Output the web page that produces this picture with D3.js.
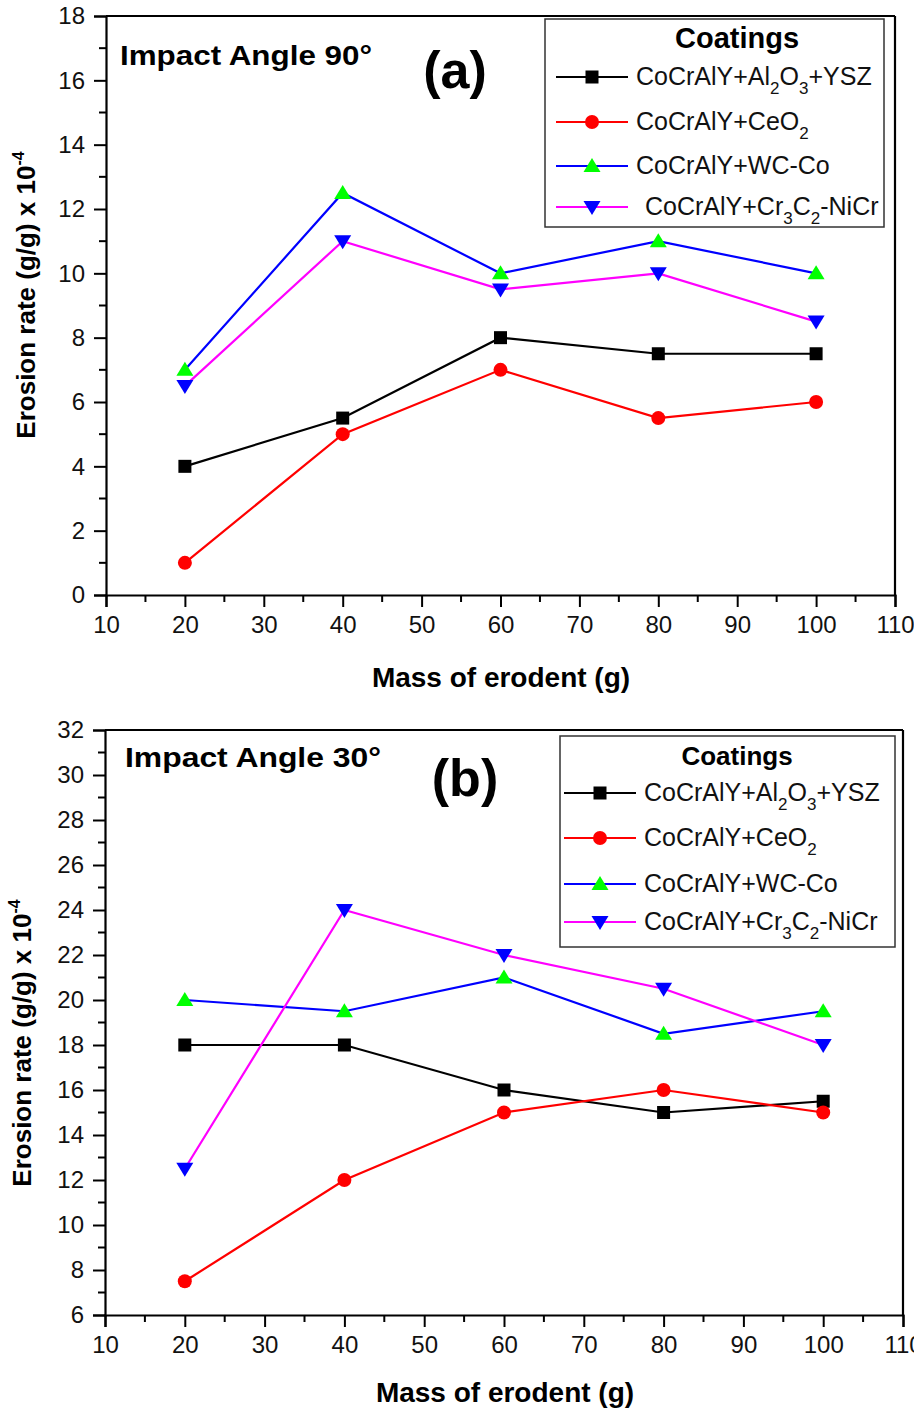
<!DOCTYPE html>
<html><head><meta charset="utf-8">
<script src="https://cdn.jsdelivr.net/npm/d3@7"></script>
<style>
body{margin:0;background:#fff;}
svg text{font-family:"Liberation Sans",Arial,sans-serif;}
</style></head>
<body><svg id="c" width="914" height="1411"></svg>
<script>
const massX = [20, 40, 60, 80, 100];
const seriesNames = ["CoCrAlY+Al2O3+YSZ","CoCrAlY+CeO2","CoCrAlY+WC-Co","CoCrAlY+Cr3C2-NiCr"];
const a_al2o3 = [4, 5.5, 8, 7.5, 7.5];
const a_ceo2  = [1, 5, 7, 5.5, 6];
const a_wcco  = [7, 12.5, 10, 11, 10];
const a_cr3c2 = [6.5, 11, 9.5, 10, 8.5];
const b_al2o3 = [18, 18, 16, 15, 15.5];
const b_ceo2  = [7.5, 12, 15, 16, 15];
const b_wcco  = [20, 19.5, 21, 18.5, 19.5];
const b_cr3c2 = [12.5, 24, 22, 20.5, 18];
const xTicks = [10,20,30,40,50,60,70,80,90,100,110];
const aYTicks = [0,2,4,6,8,10,12,14,16,18];
const bYTicks = [6,8,10,12,14,16,18,20,22,24,26,28,30,32];

const styles = [
  {line:"#000000", fill:"#000000", marker:"square"},
  {line:"#ff0000", fill:"#ff0000", marker:"circle"},
  {line:"#0000ff", fill:"#00ff00", marker:"triangle"},
  {line:"#ff00ff", fill:"#0000ff", marker:"triangleDown"}
];
const labelParts = [
  [["CoCrAlY+Al",0],["2",1],["O",0],["3",1],["+YSZ",0]],
  [["CoCrAlY+CeO",0],["2",1]],
  [["CoCrAlY+WC-Co",0]],
  [["CoCrAlY+Cr",0],["3",1],["C",0],["2",1],["-NiCr",0]]
];

const svg = d3.select("#c");

function marker(g, type, x, y, fill){
  if(type==="square"){
    g.append("rect").attr("x",x-6.5).attr("y",y-6.5).attr("width",13).attr("height",13).attr("fill",fill);
  } else if(type==="circle"){
    g.append("circle").attr("cx",x).attr("cy",y).attr("r",7).attr("fill",fill);
  } else if(type==="triangle"){
    g.append("path").attr("d",`M${x},${y-8}L${x+8.5},${y+6}L${x-8.5},${y+6}Z`).attr("fill",fill);
  } else {
    g.append("path").attr("d",`M${x},${y+8}L${x+8.5},${y-6}L${x-8.5},${y-6}Z`).attr("fill",fill);
  }
}

function panel(cfg){
  const g = svg.append("g");
  const x = d3.scaleLinear().domain([10,110]).range([cfg.left,cfg.right]);
  const y = d3.scaleLinear().domain(cfg.yDomain).range([cfg.bottom,cfg.top]);
  const fs = 24;
  const xMinor = d3.range(15,110,10);
  const yMinor = d3.range(cfg.yDomain[0]+1, cfg.yDomain[1], 2);
  xMinor.forEach(v=>g.append("line").attr("x1",x(v)).attr("x2",x(v)).attr("y1",cfg.bottom).attr("y2",cfg.bottom+7).attr("stroke","#000").attr("stroke-width",2));
  yMinor.forEach(v=>g.append("line").attr("y1",y(v)).attr("y2",y(v)).attr("x1",cfg.left).attr("x2",cfg.left-7).attr("stroke","#000").attr("stroke-width",2));
  const xa = g.append("g").attr("transform",`translate(0,${cfg.bottom})`)
    .call(d3.axisBottom(x).tickValues(xTicks).tickSize(12).tickPadding(9).tickFormat(d3.format("d")));
  const ya = g.append("g").attr("transform",`translate(${cfg.left},0)`)
    .call(d3.axisLeft(y).tickValues(cfg.yTicks).tickSize(12).tickPadding(9).tickFormat(d3.format("d")));
  [xa,ya].forEach(a=>{
    a.select(".domain").attr("stroke-width",2.2);
    a.selectAll(".tick line").attr("stroke-width",2);
    a.selectAll(".tick text").attr("font-size",fs).attr("font-family","Liberation Sans, Arial, sans-serif").attr("fill","#111");
  });
  g.append("line").attr("x1",cfg.left).attr("x2",cfg.right).attr("y1",cfg.top).attr("y2",cfg.top).attr("stroke","#000").attr("stroke-width",2.2);
  g.append("line").attr("x1",cfg.right).attr("x2",cfg.right).attr("y1",cfg.top).attr("y2",cfg.bottom).attr("stroke","#000").attr("stroke-width",2.2);

  const line = d3.line().x((d,i)=>x(massX[i])).y(d=>y(d));
  cfg.data.forEach((s,k)=>{
    g.append("path").attr("d",line(s)).attr("fill","none").attr("stroke",styles[k].line).attr("stroke-width",2.2);
  });
  cfg.data.forEach((s,k)=>{
    s.forEach((v,i)=>marker(g, styles[k].marker, x(massX[i]), y(v), styles[k].fill));
  });

  g.append("text").attr("x",cfg.titleX).attr("y",cfg.titleY).attr("font-size",28).attr("font-weight","bold")
    .attr("textLength",cfg.titleW).attr("lengthAdjust","spacingAndGlyphs").text(cfg.title);
  g.append("text").attr("x",cfg.letterX).attr("y",cfg.letterY).attr("font-size",52).attr("font-weight","bold")
    .attr("font-family","Lato, 'Open Sans', sans-serif").attr("text-anchor","middle").text(cfg.letter);
  g.append("text").attr("x",cfg.xlabX).attr("y",cfg.xlabY).attr("text-anchor","middle").attr("font-size",28).attr("font-weight","bold").text("Mass of erodent (g)");
  const yl = g.append("text").attr("transform",`translate(${cfg.ylabX},${cfg.ylabY}) rotate(-90)`).attr("text-anchor","middle").attr("font-size",26).attr("font-weight","bold");
  yl.append("tspan").text("Erosion rate (g/g) x 10");
  yl.append("tspan").attr("dy",-11).attr("font-size",16).text("-4");

  const L = cfg.legend;
  g.append("rect").attr("x",L.x).attr("y",L.y).attr("width",L.w).attr("height",L.h).attr("fill","#fff").attr("stroke","#333").attr("stroke-width",1.5);
  g.append("text").attr("x",L.titleX).attr("y",L.titleY).attr("text-anchor","middle").attr("font-size",L.titleFs).attr("font-weight","bold").text("Coatings");
  seriesNames.forEach((nm,k)=>{
    const ry = L.rows[k];
    g.append("line").attr("x1",L.lx1).attr("x2",L.lx2).attr("y1",ry).attr("y2",ry).attr("stroke",styles[k].line).attr("stroke-width",2.2);
    marker(g, styles[k].marker, (L.lx1+L.lx2)/2, ry, styles[k].fill);
    const t = g.append("text").attr("x",L.tx + (k===3?L.row4shift:0)).attr("y",ry+8).attr("font-size",25).attr("fill","#111");
    let sub=false;
    labelParts[k].forEach(([txt,isSub])=>{
      const sp = t.append("tspan").text(txt);
      if(isSub && !sub){ sp.attr("dy",9).attr("font-size",17); sub=true; }
      else if(isSub && sub){ sp.attr("font-size",17); }
      else if(!isSub && sub){ sp.attr("dy",-9); sub=false; }
    });
  });
}

panel({left:106,right:895,top:16,bottom:595,yDomain:[0,18],yTicks:aYTicks,
  data:[a_al2o3,a_ceo2,a_wcco,a_cr3c2],
  title:"Impact Angle 90°",titleX:120,titleY:65,titleW:252,letter:"(a)",letterX:455,letterY:88,
  xlabX:501,xlabY:687,ylabX:35,ylabY:295,
  legend:{x:545,y:19,w:339,h:208,titleX:737,titleY:48,titleFs:29,rows:[77,122,166,207],lx1:556,lx2:628,tx:636,row4shift:9}
});
panel({left:105,right:903,top:730,bottom:1315,yDomain:[6,32],yTicks:bYTicks,
  data:[b_al2o3,b_ceo2,b_wcco,b_cr3c2],
  title:"Impact Angle 30°",titleX:125,titleY:767,titleW:256,letter:"(b)",letterX:465,letterY:796,
  xlabX:505,xlabY:1402,ylabX:31,ylabY:1043,
  legend:{x:560,y:736,w:335,h:211,titleX:737,titleY:765,titleFs:26,rows:[793,838,884,922],lx1:564,lx2:636,tx:644,row4shift:0}
});
</script></body></html>
